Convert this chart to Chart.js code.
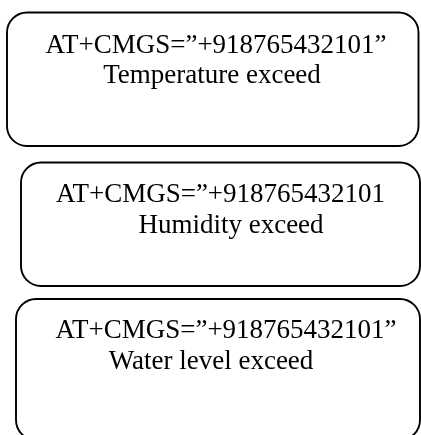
<!DOCTYPE html>
<html>
<head>
<meta charset="utf-8">
<script src="https://cdn.jsdelivr.net/npm/chart.js@4/dist/chart.umd.min.js"></script>
<style>
  html, body { margin: 0; padding: 0; background: #fff; }
  canvas { display: block; }
</style>
</head>
<body>
<canvas id="myChart" width="421" height="435"></canvas>
<script>
'use strict'
// text shown in each box
var commands = ['AT+CMGS=\u201D+918765432101\u201D', 'AT+CMGS=\u201D+918765432101', 'AT+CMGS=\u201D+918765432101\u201D'];
var alerts = ['Temperature exceed', 'Humidity exceed', 'Water level exceed'];

// box layout in page units (x left/right, y top/bottom) and text centres
var boxLeft = [7, 21, 16];
var boxRight = [418.5, 420, 420];
var boxTop = [12.5, 162.5, 299];
var boxBottom = [146, 286, 440];
var line1X = [216, 220.5, 226];
var line2X = [212, 231, 211];
var line1Y = [53, 202, 338];
var line2Y = [83, 233, 369];

var boxPlugin = {
    id: 'boxes',
    afterDraw: function(chart) {
        var c = chart.ctx;
        var sx = chart.scales.x;
        var sy = chart.scales.y;
        c.save();
        c.strokeStyle = '#000';
        c.lineWidth = 1.9;
        for (let i = 0; i < commands.length; i++) {
            var l = sx.getPixelForValue(boxLeft[i]);
            var r = sx.getPixelForValue(boxRight[i]);
            var t = sy.getPixelForValue(boxTop[i]);
            var b = sy.getPixelForValue(boxBottom[i]);
            c.beginPath();
            c.roundRect(l, t, r - l, b - t, 20);
            c.stroke();

            c.fillStyle = '#000';
            c.font = '27px "Liberation Serif"';
            c.textAlign = 'center';
            c.textBaseline = 'alphabetic';
            c.fillText(commands[i], sx.getPixelForValue(line1X[i]), sy.getPixelForValue(line1Y[i]));
            c.fillText(alerts[i], sx.getPixelForValue(line2X[i]), sy.getPixelForValue(line2Y[i]));
        }
        c.restore();
    }
};

var ctx = document.getElementById('myChart').getContext('2d');
var chart = new Chart(ctx, {
    type: 'scatter',
    data: {
        datasets: [{ data: [] }]
    },
    options: {
        responsive: false,
        animation: false,
        layout: { padding: 0 },
        plugins: { legend: { display: false }, tooltip: { enabled: false } },
        scales: {
            x: { type: 'linear', min: 0, max: 421, display: false },
            y: { type: 'linear', min: 0, max: 435, reverse: true, display: false }
        }
    },
    plugins: [boxPlugin]
});
</script>
</body>
</html>
